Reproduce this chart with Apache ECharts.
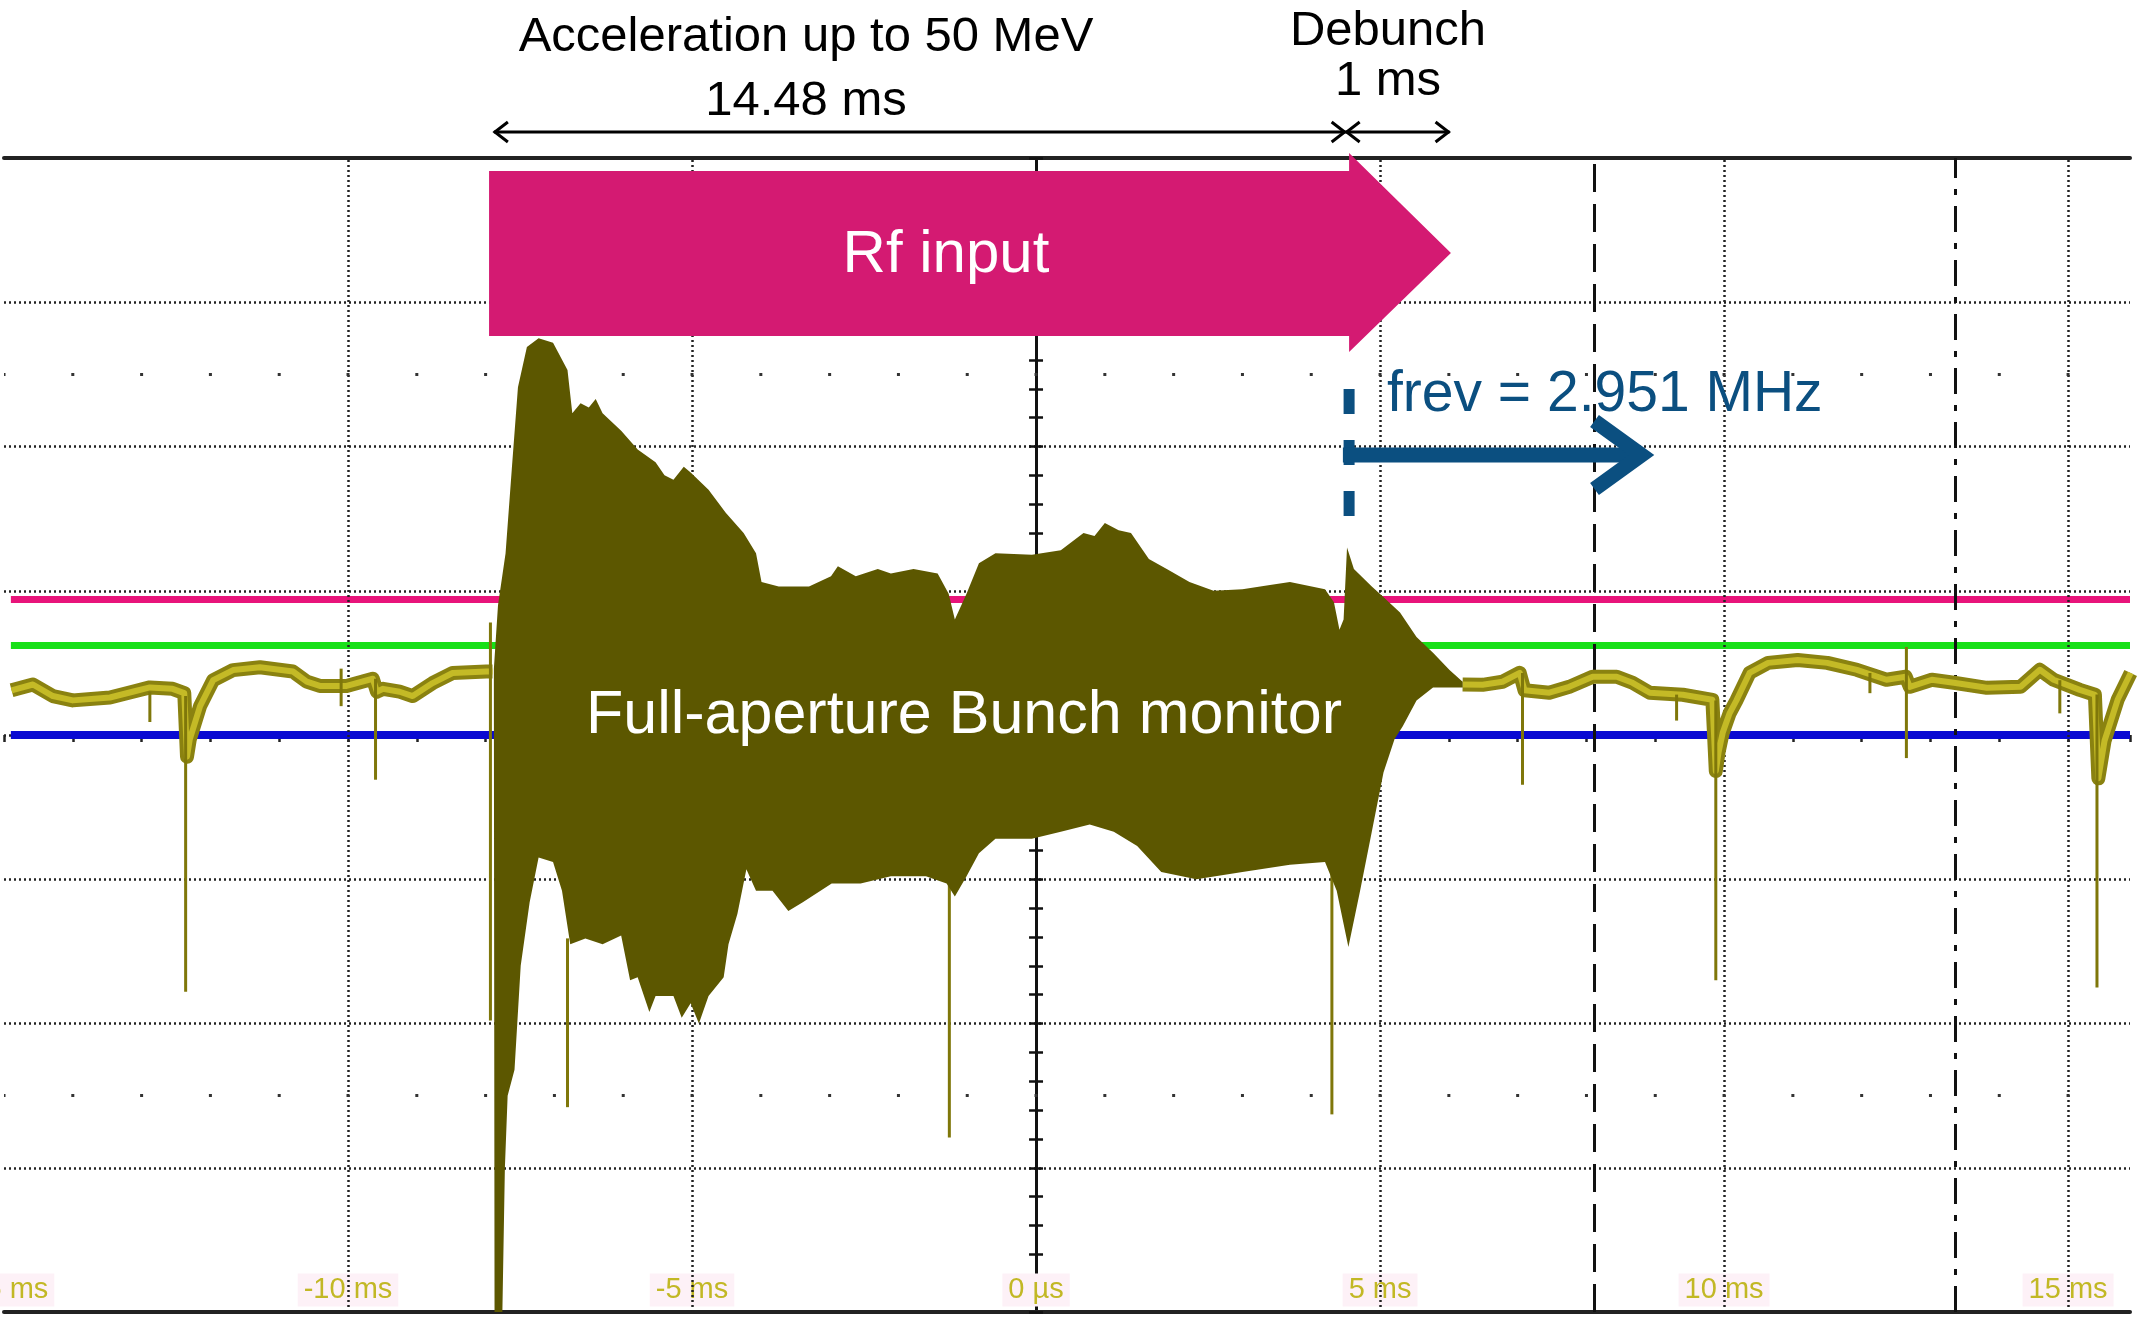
<!DOCTYPE html>
<html><head><meta charset="utf-8">
<script src="https://cdn.jsdelivr.net/npm/echarts@6/dist/echarts.min.js"></script>
<style>html,body{margin:0;padding:0;background:#fff}#c{width:2141px;height:1326px}</style>
</head><body><div id="c"></div>
<script>
// ---------- data (time in ms, amplitude in divisions) ----------
const xTickValues = [-15, -10, -5, 0, 5, 10, 15];
const xTickLabels = ['-15 ms', '-10 ms', '-5 ms', '0 µs', '5 ms', '10 ms', '15 ms'];
const gridTimes = [-10, -5, 5, 10, 15];
const traceSpan = [-14.9, 15.9];
const levelNames = ['pink', 'green', 'blue'];
const levelValues = [0.94, 0.62, 0.0];
const levelColors = ['#e8147a', '#18e018', '#0a0ad2'];
const cursorTimes = [8.12, 13.36];

const baselineLeft = [[-14.89,0.31],[-14.58,0.35],[-14.29,0.27],[-14.0,0.24],[-13.46,0.26],[-13.13,0.30],[-12.88,0.33],[-12.55,0.32],[-12.38,0.29],[-12.34,-0.15],[-12.30,-0.03],[-12.15,0.2],[-11.96,0.38],[-11.67,0.45],[-11.28,0.47],[-10.80,0.44],[-10.60,0.37],[-10.41,0.34],[-10.02,0.34],[-9.64,0.39],[-9.58,0.30],[-9.49,0.32],[-9.25,0.30],[-9.06,0.27],[-8.77,0.36],[-8.48,0.43],[-7.99,0.44],[-7.90,0.44]];
const baselineRight = [[6.20,0.35],[6.49,0.348],[6.78,0.369],[7.03,0.431],[7.10,0.31],[7.46,0.293],[7.75,0.334],[8.09,0.404],[8.44,0.404],[8.67,0.362],[8.92,0.293],[9.40,0.279],[9.83,0.244],[9.88,-0.25],[9.92,-0.12],[9.98,0.015],[10.08,0.15],[10.18,0.24],[10.37,0.43],[10.64,0.50],[11.07,0.52],[11.50,0.50],[11.93,0.452],[12.36,0.383],[12.64,0.404],[12.70,0.334],[13.02,0.383],[13.34,0.362],[13.82,0.327],[14.31,0.334],[14.59,0.452],[14.79,0.383],[15.17,0.313],[15.39,0.279],[15.44,-0.3],[15.53,-0.04],[15.72,0.244],[15.91,0.43]];
const bunchUpper = [[-7.88,0.46],[-7.82,0.90],[-7.71,1.26],[-7.62,1.84],[-7.53,2.41],[-7.40,2.69],[-7.23,2.75],[-7.02,2.72],[-6.81,2.53],[-6.74,2.23],[-6.62,2.30],[-6.50,2.27],[-6.40,2.33],[-6.30,2.23],[-6.03,2.11],[-5.79,1.98],[-5.53,1.89],[-5.40,1.80],[-5.27,1.77],[-5.12,1.86],[-5.02,1.82],[-4.76,1.70],[-4.51,1.54],[-4.25,1.40],[-4.07,1.26],[-3.99,1.06],[-3.74,1.03],[-3.30,1.03],[-2.98,1.10],[-2.88,1.17],[-2.62,1.10],[-2.30,1.15],[-2.11,1.12],[-1.78,1.15],[-1.43,1.12],[-1.27,0.98],[-1.18,0.80],[-1.01,0.98],[-0.83,1.19],[-0.59,1.26],[-0.06,1.25],[0.36,1.28],[0.69,1.40],[0.85,1.38],[1.00,1.47],[1.20,1.42],[1.38,1.40],[1.64,1.22],[1.90,1.15],[2.23,1.06],[2.58,1.00],[3.00,1.01],[3.40,1.04],[3.69,1.06],[4.20,1.01],[4.33,0.92],[4.41,0.73],[4.47,0.80],[4.52,1.30],[4.62,1.15],[4.88,1.03],[5.04,0.96],[5.29,0.85],[5.53,0.68],[5.77,0.57],[6.01,0.45],[6.20,0.37]];
const bunchLower = [[-7.88,0.30],[-7.87,-4.1],[-7.76,-4.1],[-7.72,-3.0],[-7.68,-2.5],[-7.58,-2.32],[-7.49,-1.60],[-7.36,-1.16],[-7.23,-0.85],[-7.02,-0.88],[-6.89,-1.08],[-6.77,-1.45],[-6.55,-1.41],[-6.30,-1.45],[-6.03,-1.39],[-5.90,-1.70],[-5.79,-1.68],[-5.62,-1.92],[-5.53,-1.81],[-5.27,-1.81],[-5.15,-1.96],[-5.02,-1.86],[-4.90,-2.00],[-4.76,-1.81],[-4.54,-1.68],[-4.47,-1.45],[-4.34,-1.24],[-4.21,-0.93],[-4.07,-1.08],[-3.83,-1.08],[-3.60,-1.22],[-3.39,-1.16],[-2.97,-1.03],[-2.55,-1.03],[-2.11,-0.98],[-1.60,-0.98],[-1.30,-1.03],[-1.18,-1.12],[-1.01,-0.98],[-0.83,-0.82],[-0.59,-0.72],[-0.06,-0.72],[0.36,-0.67],[0.78,-0.62],[1.13,-0.67],[1.47,-0.77],[1.82,-0.95],[2.33,-1.00],[3.00,-0.95],[3.69,-0.90],[4.20,-0.88],[4.37,-1.08],[4.54,-1.47],[4.71,-1.08],[4.88,-0.67],[5.05,-0.26],[5.21,-0.03],[5.33,0.06],[5.53,0.24],[5.77,0.33],[6.20,0.33]];
const spikeT      = [-12.88, -12.36, -10.10, -9.60, -7.93, -6.81, -1.26, 4.30, 7.07, 9.31, 9.88, 12.12, 12.65, 14.88, 15.42];
const spikeTop    = [0.30, 0.27, 0.46, 0.39, 0.78, -1.41, -1.00, -0.90, 0.43, 0.28, 0.24, 0.43, 0.61, 0.38, 0.28];
const spikeBottom = [0.09, -1.78, 0.20, -0.31, -1.98, -2.58, -2.79, -2.63, -0.345, 0.10, -1.70, 0.29, -0.16, 0.15, -1.75];

// annotation times (ms)
const accSpan = [-7.88, 4.50];
const debunchSpan = [4.50, 6.01];
const rfArrowT = [-7.95, 4.55, 6.03];   // body start, head start, tip
const frevLineT = 4.55;
const frevArrowT = [4.46, 8.80];

// ---------- chart ----------
const FONT = "'Liberation Sans', Arial, Helvetica, sans-serif";
const GRID = {left: 4, right: 11, top: 158, bottom: 14, containLabel: false, outerBoundsMode: 'none'};
const chart = echarts.init(document.getElementById('c'));
const xMin = -15, xMax = 15.9;
const dotPeriod = (2141 - GRID.left - GRID.right) / (xMax - xMin);

const series = [];
// grid lines + minor dot rows
series.push({
  type: 'line', data: [], z: 1, silent: true, xAxisIndex: 0, yAxisIndex: 0,
  markLine: {
    silent: true, symbol: 'none', label: {show: false}, animation: false,
    data: gridTimes.map(t => ({xAxis: t, lineStyle: {color: '#222', width: 2.5, type: [2, 3]}}))
      .concat([2.5, -2.5].map(v => ({yAxis: v, lineStyle: {color: '#333', width: 3, type: [3, dotPeriod - 3], dashOffset: 1.5}})))
  }
});
// reference levels
levelValues.forEach((v, i) => {
  series.push({
    name: levelNames[i], type: 'line', symbol: 'none', z: 3, silent: true,
    data: [[traceSpan[0], v], [traceSpan[1], v]],
    lineStyle: {color: levelColors[i], width: i === 2 ? 8 : 7}
  });
});
// cursor lines
series.push({
  type: 'line', data: [], z: 4, silent: true,
  markLine: {
    silent: true, symbol: 'none', label: {show: false}, animation: false,
    data: [
      {xAxis: cursorTimes[0], lineStyle: {color: '#111', width: 3, type: [28, 12]}},
      {xAxis: cursorTimes[1], lineStyle: {color: '#111', width: 3, type: [26, 11, 6, 11]}}
    ]
  }
});
// baseline trace
[baselineLeft, baselineRight].forEach(d => {
  series.push({type: 'line', symbol: 'none', z: 5, silent: true, data: d, lineStyle: {color: '#8a8210', width: 14, join: 'round'}});
  series.push({type: 'line', symbol: 'none', z: 5, silent: true, data: d, lineStyle: {color: '#c4ba26', width: 6, join: 'round'}});
});
// spikes
series.push({
  type: 'custom', z: 6, silent: true, clip: true,
  data: spikeT.map((t, i) => [t, spikeTop[i], spikeBottom[i]]),
  renderItem: function (params, api) {
    const a = api.coord([api.value(0), api.value(1)]);
    const b = api.coord([api.value(0), api.value(2)]);
    return {type: 'line', shape: {x1: a[0], y1: a[1], x2: b[0], y2: b[1]}, style: {stroke: '#7f770a', lineWidth: 3}};
  }
});
// bunched-beam envelope
series.push({
  type: 'custom', z: 6, silent: true, clip: true,
  data: [[0, 0]],
  renderItem: function (params, api) {
    const pts = bunchUpper.map(p => api.coord(p)).concat(bunchLower.slice().reverse().map(p => api.coord(p)));
    return {type: 'polygon', shape: {points: pts}, style: {fill: '#5c5700'}};
  }
});

const hiddenX = (gi) => ({type: 'value', gridIndex: gi, min: xMin, max: xMax, interval: 1, position: 'bottom',
  axisLine: {show: true, onZero: true, lineStyle: {color: 'rgba(0,0,0,0)'}},
  axisTick: {show: gi === 1, length: 7, lineStyle: {color: '#222', width: 2.5}},
  axisLabel: {show: false}, splitLine: {show: false}});
const centerY = (gi, inside) => ({type: 'value', gridIndex: gi, min: -4, max: 4, interval: 0.2, position: 'left',
  axisLine: {show: true, onZero: true, lineStyle: {color: '#111', width: 3}},
  axisTick: {show: true, inside: inside, length: 7, lineStyle: {color: '#111', width: 2.5}},
  axisLabel: {show: false}, splitLine: {show: false}});

chart.setOption({
  animation: false,
  backgroundColor: '#ffffff',
  grid: [Object.assign({}, GRID), Object.assign({}, GRID), Object.assign({}, GRID)],
  xAxis: [
    {type: 'value', gridIndex: 0, min: xMin, max: xMax, interval: 5, position: 'bottom',
     axisLine: {show: true, onZero: false, lineStyle: {color: '#222', width: 4}},
     axisTick: {show: false}, splitLine: {show: false},
     axisLabel: {inside: true, margin: 22, verticalAlign: 'middle', color: '#c2b825',
       fontFamily: FONT, fontSize: 29, backgroundColor: '#fdf1f7', padding: [2, 6],
       showMinLabel: true, showMaxLabel: false, hideOverlap: false,
       formatter: function (v) { const i = xTickValues.indexOf(Math.round(v * 1000) / 1000); return i >= 0 ? xTickLabels[i] : ''; }}},
    {type: 'value', gridIndex: 0, min: xMin, max: xMax, interval: 5, position: 'top',
     axisLine: {show: true, onZero: false, lineStyle: {color: '#222', width: 4}},
     axisTick: {show: false}, axisLabel: {show: false}, splitLine: {show: false}},
    hiddenX(1),
    hiddenX(2)
  ],
  yAxis: [
    {type: 'value', gridIndex: 0, min: -4, max: 4, interval: 1,
     axisLine: {show: false}, axisTick: {show: false}, axisLabel: {show: false},
     splitLine: {show: true, lineStyle: {color: '#222', width: 2.5, type: [2, 3]}}},
    centerY(1, false),
    centerY(2, true)
  ],
  series: series
});

// ---------- annotations ----------
function px(t) { return chart.convertToPixel({gridIndex: 0}, [t, 0])[0]; }
function txt(s, x, y, size, color, align) {
  return {type: 'text', z: 100, x: x, y: y, style: {text: s, font: size + 'px ' + FONT, fill: color,
    align: align || 'center', verticalAlign: 'middle', textAlign: align || 'center', textVerticalAlign: 'middle'}};
}
function dblArrow(x1, x2, y) {
  const s = {stroke: '#000', lineWidth: 3, fill: null};
  return [
    {type: 'line', z: 100, shape: {x1: x1, y1: y, x2: x2, y2: y}, style: s},
    {type: 'polyline', z: 100, shape: {points: [[x1 + 14, y - 10], [x1 + 1, y], [x1 + 14, y + 10]]}, style: s},
    {type: 'polyline', z: 100, shape: {points: [[x2 - 14, y - 10], [x2 - 1, y], [x2 - 14, y + 10]]}, style: s}
  ];
}
const x0 = px(rfArrowT[0]), xh = px(rfArrowT[1]), xt = px(rfArrowT[2]);
const fx = px(frevLineT), fa0 = px(frevArrowT[0]), fa1 = px(frevArrowT[1]);
const blue = '#0b4f80';
const g = [
  {type: 'polygon', z: 90, shape: {points: [[x0, 171], [xh, 171], [xh, 153], [xt, 253], [xh, 352], [xh, 336], [x0, 336]]}, style: {fill: '#d41a72'}},
  txt('Rf input', 946, 255, 60, '#ffffff'),
  txt('Acceleration up to 50 MeV', 806, 37, 49, '#000'),
  txt('14.48 ms', 806, 101, 49, '#000'),
  txt('Debunch', 1388, 31, 49, '#000'),
  txt('1 ms', 1388, 81, 49, '#000'),
  txt('Full-aperture Bunch monitor', 964, 716, 61, '#ffffff'),
  txt('frev = 2.951 MHz', 1387, 395, 57, blue, 'left'),
  {type: 'line', z: 95, shape: {x1: fx, y1: 389, x2: fx, y2: 516}, style: {stroke: blue, lineWidth: 11, lineDash: [25, 26]}},
  {type: 'line', z: 95, shape: {x1: fa0, y1: 455, x2: fa1 - 4, y2: 455}, style: {stroke: blue, lineWidth: 15}},
  {type: 'polyline', z: 95, shape: {points: [[fa1 - 47, 421], [fa1, 455], [fa1 - 47, 489]]}, style: {stroke: blue, lineWidth: 15, fill: null, lineJoin: 'miter'}}
].concat(dblArrow(px(accSpan[0]), px(accSpan[1]), 132)).concat(dblArrow(px(debunchSpan[0]), px(debunchSpan[1]), 132));
chart.setOption({graphic: g});
</script>
</body></html>
